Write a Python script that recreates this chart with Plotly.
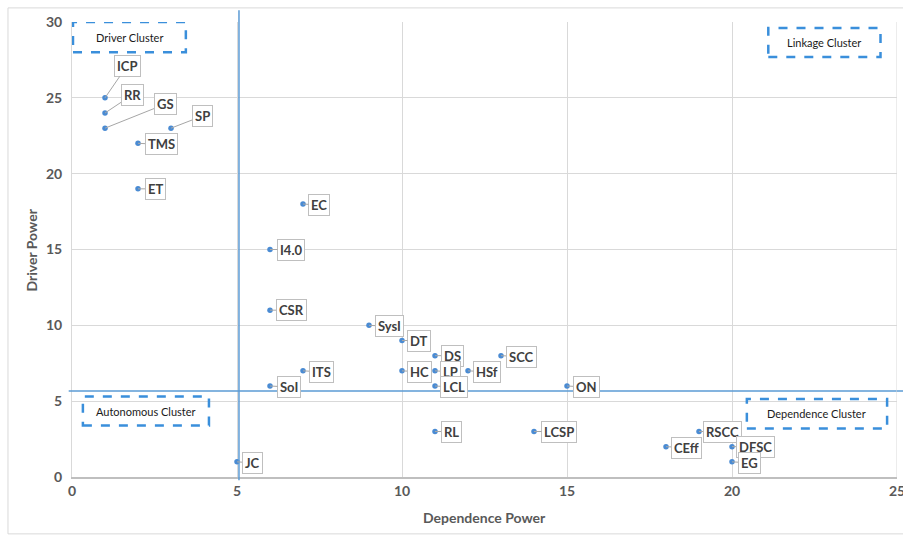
import plotly.graph_objects as go

# ---- data ----
labels = ["ICP", "RR", "GS", "SP", "TMS", "ET", "EC", "I4.0", "CSR", "SysI", "DT", "DS", "SCC",
          "HC", "LP", "HSf", "ITS", "SoI", "LCL", "ON", "RL", "LCSP", "JC", "CEff", "RSCC", "DFSC", "EG"]
dependence = [1, 1, 1, 3, 2, 2, 7, 6, 6, 9, 10, 11, 13, 10, 11, 12, 7, 6, 11, 15, 11, 14, 5, 18, 19, 20, 20]
driver = [25, 24, 23, 23, 22, 19, 18, 15, 11, 10, 9, 8, 8, 7, 7, 7, 7, 6, 6, 6, 3, 3, 1, 2, 3, 2, 1]
# label box offsets (pixels) from each point
label_dx = [22, 27, 60, 31, 23, 17, 16, 21, 21, 20, 17, 17, 20, 17, 15, 19, 18, 19, 19, 19, 16, 25, 15, 20, 23, 23, 17]
label_dy = [-32, -18, -24, -12, 1, 0, 1, 0, 0, 1, 0, 0, 1, 1, 1, 1, 1, 1, 1, 1, 0, 0, 1, 1, 0, 0, 1]

clusters = ["Driver Cluster", "Linkage Cluster", "Autonomous Cluster", "Dependence Cluster"]
cluster_x0 = [0.03, 21.1, 0.33, 20.45]
cluster_x1 = [3.45, 24.5, 4.15, 24.7]
cluster_y0 = [28.0, 27.7, 3.4, 3.2]
cluster_y1 = [30.0, 29.6, 5.3, 5.15]

x_ticks = [0, 5, 10, 15, 20, 25]
y_ticks = [0, 5, 10, 15, 20, 25, 30]
x_title = "Dependence Power"
y_title = "Driver Power"

FONT = "Lato"
BLUE = "#5b9bd5"

fig = go.Figure()
fig.add_trace(go.Scatter(
    x=dependence, y=driver, mode="markers",
    marker=dict(size=5.5, color="#4a8bd3"),
    hoverinfo="text", text=labels, showlegend=False, cliponaxis=False))

annotations = []
for lab, xv, yv, dx, dy in zip(labels, dependence, driver, label_dx, label_dy):
    annotations.append(dict(
        x=xv, y=yv, xref="x", yref="y", text="<b>%s</b>" % lab,
        showarrow=True, arrowhead=0, arrowwidth=1, arrowcolor="#a6a6a6",
        ax=dx, ay=dy, standoff=0, startstandoff=0,
        font=dict(family=FONT, size=13, color="#404040"),
        bgcolor="white", bordercolor="#bfbfbf", borderwidth=1, borderpad=2))

shapes = []
for name, x0, x1, y0, y1 in zip(clusters, cluster_x0, cluster_x1, cluster_y0, cluster_y1):
    shapes.append(dict(type="rect", xref="x", yref="y", x0=x0, x1=x1, y0=y0, y1=y1,
                       line=dict(color="#3a8fdb", width=2.5, dash="dash"), fillcolor="rgba(0,0,0,0)"))
    annotations.append(dict(x=(x0 + x1) / 2, y=(y0 + y1) / 2, xref="x", yref="y", text=name,
                            showarrow=False, font=dict(family=FONT, size=11, color="#1a1a1a")))

# axis titles
annotations.append(dict(x=0.5, y=-0.09, xref="paper", yref="paper", text="<b>%s</b>" % x_title,
                        showarrow=False, font=dict(family=FONT, size=14, color="#595959"),
                        xanchor="center", yanchor="middle"))
annotations.append(dict(x=-0.0485, y=0.5, xref="paper", yref="paper", text="<b>%s</b>" % y_title,
                        showarrow=False, textangle=-90, font=dict(family=FONT, size=14, color="#595959"),
                        xanchor="center", yanchor="middle"))

# quadrant dividing lines
shapes.append(dict(type="line", xref="paper", yref="paper", x0=0.2024, x1=0.2024, y0=-0.007, y1=1.026,
                   line=dict(color=BLUE, width=1.5)))
shapes.append(dict(type="line", xref="paper", yref="paper", x0=-0.004, x1=1.01, y0=0.189, y1=0.189,
                   line=dict(color=BLUE, width=1.5)))
# outer frame
shapes.append(dict(type="rect", xref="paper", yref="paper", x0=-0.0776, x1=1.02, y0=-0.125, y1=1.031,
                   line=dict(color="#d9d9d9", width=1), layer="below"))
shapes.append(dict(type="line", xref="x", yref="y", x0=25, x1=25, y0=0, y1=30,
                   line=dict(color="#d9d9d9", width=1)))

fig.update_layout(
    width=903, height=536,
    margin=dict(l=72, r=6, t=22, b=59, autoexpand=False),
    paper_bgcolor="white", plot_bgcolor="white",
    font=dict(family=FONT, color="#595959"),
    shapes=shapes, annotations=annotations,
    xaxis=dict(range=[0, 25], tickvals=x_ticks, ticktext=["<b>%d</b>" % v for v in x_ticks],
               showgrid=True, gridcolor="#d9d9d9", zeroline=False, automargin=False,
               ticklabeloverflow="allow",
               showline=True, linecolor="#bfbfbf", linewidth=1.5, ticks="",
               tickfont=dict(family=FONT, size=14, color="#595959")),
    yaxis=dict(range=[0, 30], tickvals=y_ticks, ticktext=["<b>%d</b>" % v for v in y_ticks],
               showgrid=True, gridcolor="#d9d9d9", zeroline=False, automargin=False,
               ticklabeloverflow="allow",
               showline=True, linecolor="#d9d9d9", linewidth=1, ticks="",
               tickfont=dict(family=FONT, size=14, color="#595959"), ticklabelstandoff=6),
)

fig.write_html("out.html", config={"displayModeBar": False},
               post_script="document.body.style.margin='0';")
